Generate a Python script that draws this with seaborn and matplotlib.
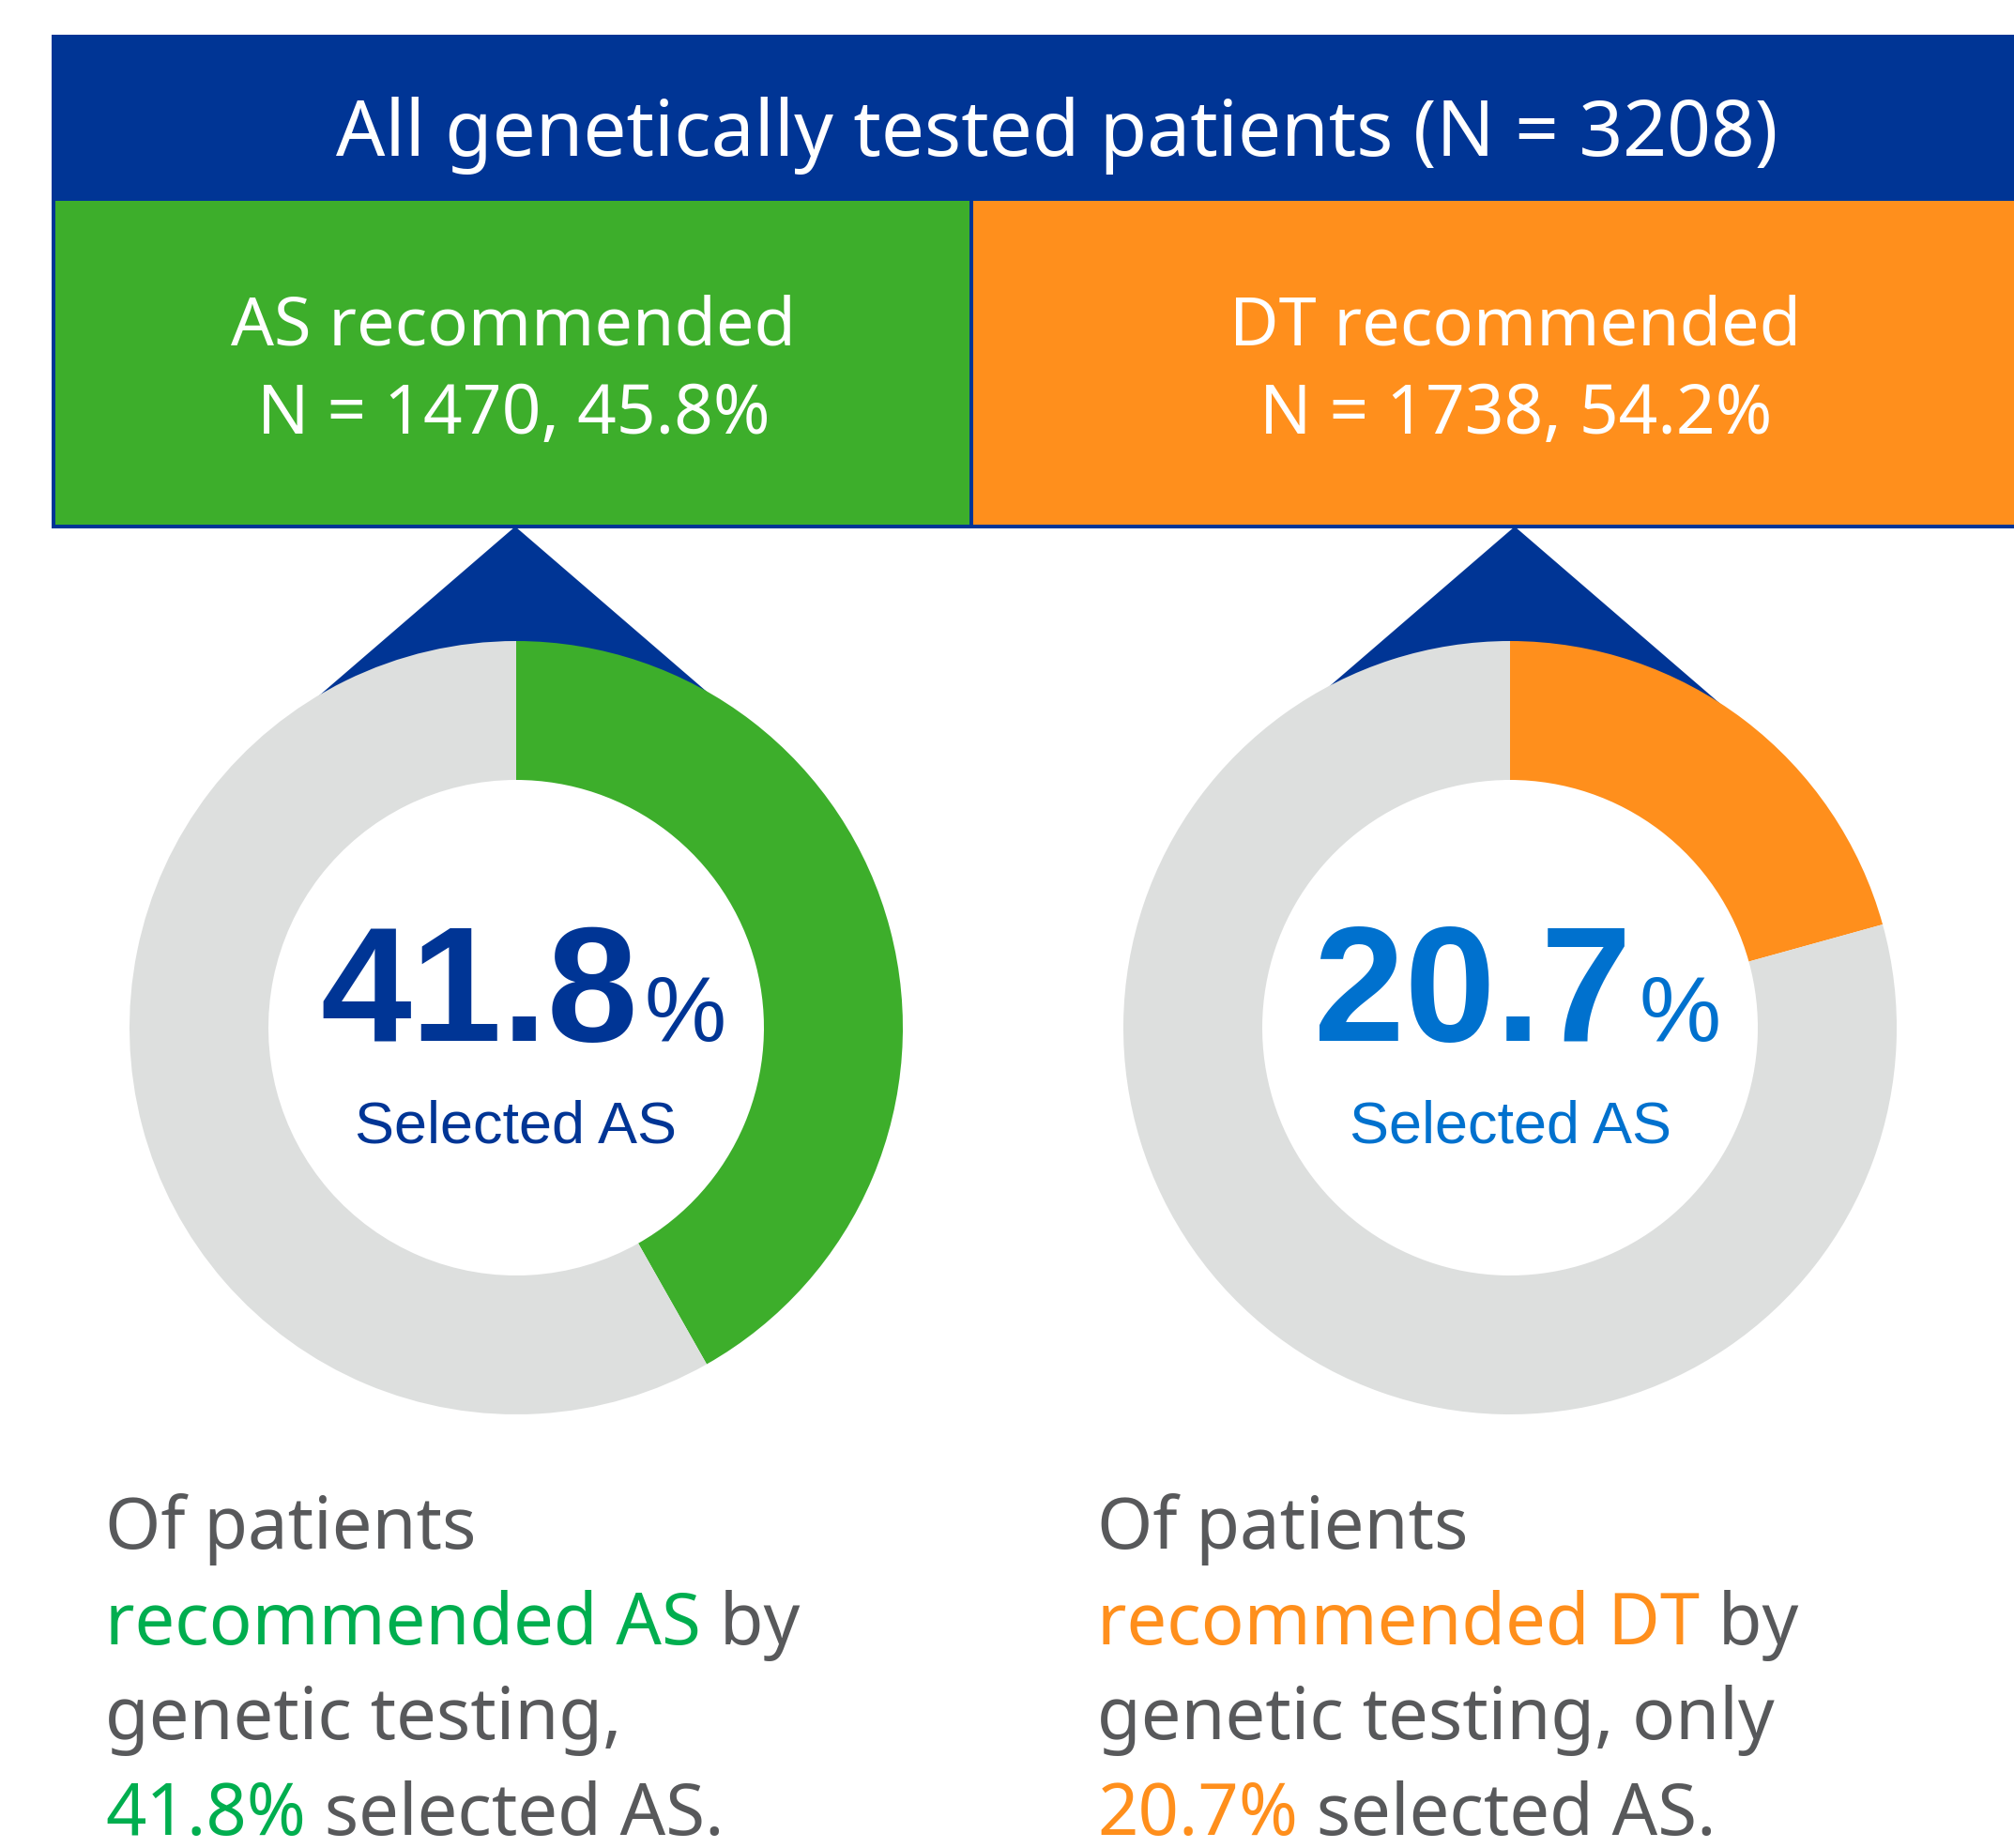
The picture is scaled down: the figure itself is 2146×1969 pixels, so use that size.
import matplotlib.pyplot as plt
import seaborn as sns
from matplotlib.patches import Rectangle, Polygon

# --- Data ---
total_n = 3208
group_names = ['AS recommended', 'DT recommended']
group_n = [1470, 1738]
group_pct = [45.8, 54.2]
selected_as_pct = [41.8, 20.7]
short_names = ['AS', 'DT']

# --- Canvas (pixel coordinates, y measured from the top) ---
W, H = 2146, 1969
DPI = 72

NAVY = '#003595'
GREEN_BOX = '#3DAE2B'
ORANGE = '#FF8F1C'
RING_GRAY = '#DDDFDE'
LIGHT_BLUE = '#0071CE'
TEXT_GRAY = '#58595B'
TEXT_GREEN = '#00AE4F'

BODY_FONT = ['Noto Sans', 'DejaVu Sans']
NUM_FONT = ['Liberation Sans', 'DejaVu Sans']

box_fill = [GREEN_BOX, ORANGE]
box_x = [57, 1035]
box_w = [978, 1125]
box_cx = [547, 1615]
ring_cx = [550, 1609]
ring_cy = 1095
R_OUT, R_IN = 412, 264
center_color = [NAVY, LIGHT_BLUE]
accent_text = [TEXT_GREEN, ORANGE]
text_x = [112, 1169]


def yy(y):
    return H - y


sns.set_theme(style='white')
plt.rcParams['font.family'] = BODY_FONT

fig = plt.figure(figsize=(W / DPI, H / DPI), dpi=DPI)
ax = fig.add_axes([0, 0, 1, 1])

# header bar
ax.add_patch(Rectangle((55, yy(212)), W - 55 + 20, 175, fc=NAVY, ec='none', zorder=1))
ax.text(1126, yy(166), f'All genetically tested patients (N = {total_n})',
        color='white', fontsize=82, ha='center', va='baseline', zorder=5)

# group boxes
for i in range(2):
    ax.add_patch(Rectangle((box_x[i], yy(561)), box_w[i], 561 - 212, fc=box_fill[i],
                           ec=NAVY, lw=4, zorder=2))
    ax.text(box_cx[i], yy(367), group_names[i], color='white', fontsize=72,
            ha='center', va='baseline', zorder=5)
    ax.text(box_cx[i], yy(462), f'N = {group_n[i]}, {group_pct[i]}%', color='white',
            fontsize=73, ha='center', va='baseline', zorder=5)

# pointers from the boxes down to the rings
for i in range(2):
    apex = box_cx[i] + (2 if i == 0 else -1)
    half = 1.16 * (780 - 561)
    ax.add_patch(Polygon([(apex, yy(561)), (apex - half, yy(780)), (apex + half, yy(780))],
                         closed=True, fc=NAVY, ec='none', zorder=1))

# donut rings
for i in range(2):
    wedges, _ = ax.pie([selected_as_pct[i], 100 - selected_as_pct[i]],
                       colors=[box_fill[i], RING_GRAY], startangle=90, counterclock=False,
                       radius=R_OUT, center=(ring_cx[i], yy(ring_cy)), frame=True,
                       wedgeprops=dict(width=R_OUT - R_IN, linewidth=0))
    for w in wedges:
        w.set_zorder(3)
    ax.text(ring_cx[i] + 130, yy(1109), f'{selected_as_pct[i]}', color=center_color[i],
            fontsize=174, fontweight='bold', family=NUM_FONT, ha='right', va='baseline', zorder=5)
    ax.text(ring_cx[i] + 137, yy(1109), '%', color=center_color[i], fontsize=98,
            family=NUM_FONT, ha='left', va='baseline', zorder=5)
    ax.text(ring_cx[i], yy(1218), 'Selected AS', color=center_color[i], fontsize=63,
            family=NUM_FONT, ha='center', va='baseline', zorder=5)


def rich_line(x, y, parts, size=76):
    t = None
    for s, c in parts:
        if t is None:
            t = ax.text(x, yy(y), s, color=c, fontsize=size, ha='left', va='baseline')
        else:
            t = ax.annotate(s, xy=(1, 0), xycoords=t, color=c, fontsize=size,
                            ha='left', va='bottom')


line_y = [1650, 1752, 1853, 1955]
for i in range(2):
    third = 'genetic testing,' if i == 0 else 'genetic testing, only'
    rich_line(text_x[i], line_y[0], [('Of patients', TEXT_GRAY)])
    rich_line(text_x[i], line_y[1], [(f'recommended {short_names[i]}', accent_text[i]),
                                     (' by', TEXT_GRAY)])
    rich_line(text_x[i], line_y[2], [(third, TEXT_GRAY)])
    rich_line(text_x[i], line_y[3], [(f'{selected_as_pct[i]}%', accent_text[i]),
                                     (' selected AS.', TEXT_GRAY)])

ax.set_xlim(0, W)
ax.set_ylim(0, H)
ax.axis('off')

fig.savefig('out.png', dpi=DPI, facecolor='white')
